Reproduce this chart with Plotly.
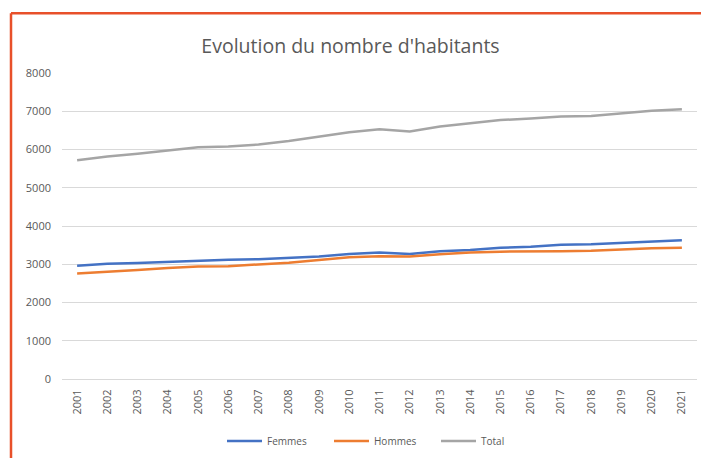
import plotly.graph_objects as go

years = [str(y) for y in range(2001, 2022)]
femmes = [2960, 3010, 3030, 3060, 3100, 3120, 3130, 3170, 3200, 3270, 3310,
          3270, 3340, 3370, 3430, 3460, 3510, 3520, 3560, 3600, 3630]
hommes = [2760, 2800, 2850, 2900, 2940, 2950, 2990, 3040, 3110, 3180, 3210,
          3200, 3260, 3310, 3330, 3330, 3340, 3350, 3390, 3420, 3430]
total = [5720, 5815, 5890, 5980, 6060, 6080, 6130, 6220, 6330, 6450, 6530,
         6470, 6600, 6680, 6770, 6810, 6860, 6875, 6945, 7010, 7050]
y_ticks = [0, 1000, 2000, 3000, 4000, 5000, 6000, 7000, 8000]

FONT = "Open Sans"
GREY = "#595959"

L, R, T, B = 62, 697, 73, 380
W, H = 701, 458
px_w, px_h = R - L, B - T

def xp(px):
    return (px - L) / px_w

def yp(py):
    return (B - py) / px_h

fig = go.Figure()
for name, vals, col in [("Femmes", femmes, "#4472C4"),
                        ("Hommes", hommes, "#ED7D31"),
                        ("Total", total, "#A5A5A5")]:
    fig.add_trace(go.Scatter(x=years, y=vals, name=name, mode="lines",
                             line=dict(color=col, width=2.5)))

fig.update_layout(
    width=W, height=H,
    margin=dict(l=L, r=W - R, t=T, b=H - B),
    paper_bgcolor="white", plot_bgcolor="white",
    title=dict(text="Evolution du nombre d'habitants", x=0.5, xanchor="center",
               y=1 - 46 / H, yanchor="middle",
               font=dict(family=FONT, size=19.5, color=GREY)),
    font=dict(family=FONT, size=10, color=GREY),
    showlegend=True,
    legend=dict(orientation="h", x=xp(222), xanchor="left", y=yp(441), yanchor="middle",
                font=dict(family=FONT, size=10, color=GREY), itemwidth=35,
                entrywidth=57, entrywidthmode="pixels",
                bgcolor="rgba(0,0,0,0)"),
    xaxis=dict(type="category", tickangle=-90, showgrid=False, showline=True,
               linecolor="#d9d9d9", linewidth=1, ticks="", range=[-0.5, 20.5],
               ticklabelstandoff=5,
               tickfont=dict(family=FONT, size=11, color=GREY)),
    yaxis=dict(range=[0, 8000], tickvals=y_ticks, showgrid=True, gridcolor="#d9d9d9",
               gridwidth=1, zeroline=False, showline=False, ticks="",
               tickfont=dict(family=FONT, size=11, color=GREY), ticklabelstandoff=10),
)

# orange-red outer frame (top and left edges visible)
fig.add_shape(type="line", xref="paper", yref="paper",
              x0=xp(11), x1=xp(W + 5), y0=yp(13), y1=yp(13),
              line=dict(color="#E8502A", width=2.5))
fig.add_shape(type="line", xref="paper", yref="paper",
              x0=xp(11), x1=xp(11), y0=yp(13), y1=yp(H + 5),
              line=dict(color="#E8502A", width=2.5))

fig.write_html("out.html", config={"displayModeBar": False},
               post_script="document.body.style.margin='0';document.body.style.overflow='hidden';")
